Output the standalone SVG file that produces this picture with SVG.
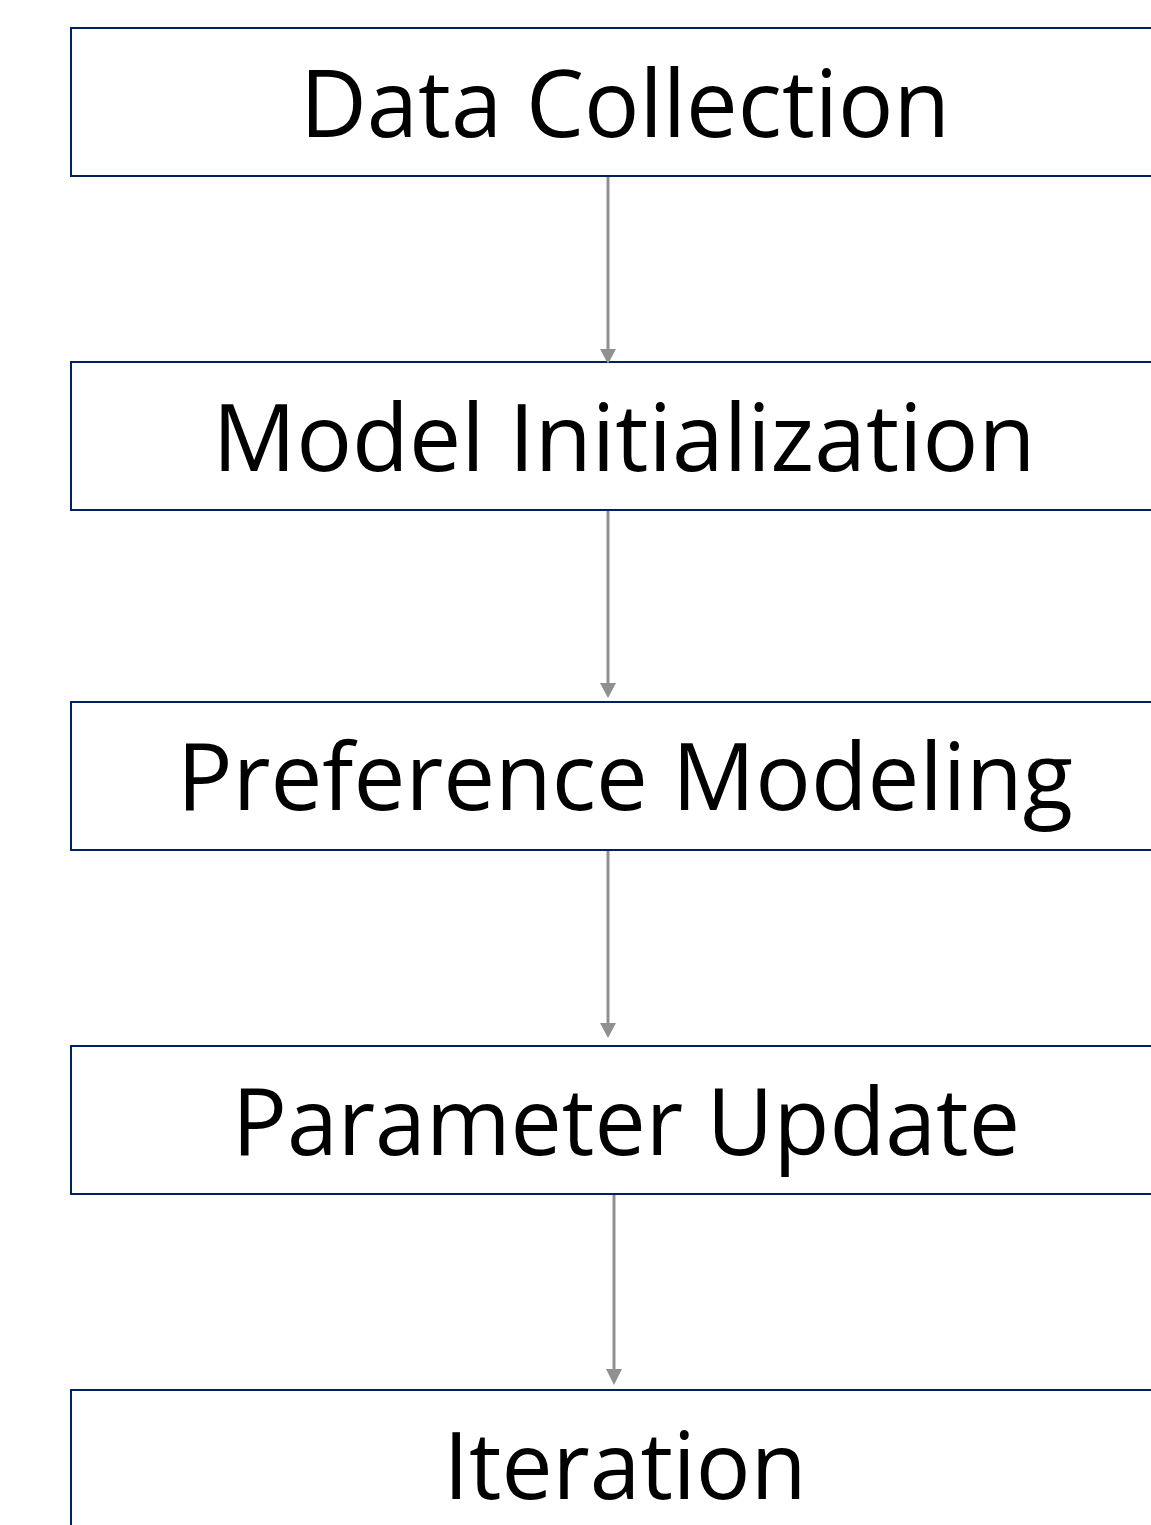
<svg xmlns="http://www.w3.org/2000/svg" width="1151" height="1525" viewBox="0 0 1151 1525">
  <style>
    .box { fill: #ffffff; stroke: #002060; stroke-width: 2; }
    .label { font-family: "Open Sans", "Noto Sans", sans-serif; font-size: 94px; fill: #000000; text-anchor: middle; }
    .edge { stroke: #909090; stroke-width: 3; fill: none; }
    .head { fill: #909090; }
  </style>
  <rect width="1151" height="1525" fill="#ffffff"/>

  <!-- process steps -->
  <g id="node-data-collection">
    <rect class="box" x="71" y="28" width="1108" height="148"/>
    <text class="label" x="625" y="137" textLength="650" lengthAdjust="spacingAndGlyphs">Data Collection</text>
  </g>
  <g id="node-model-initialization">
    <rect class="box" x="71" y="362" width="1108" height="148"/>
    <text class="label" x="624" y="471" textLength="823" lengthAdjust="spacingAndGlyphs">Model Initialization</text>
  </g>
  <g id="node-preference-modeling">
    <rect class="box" x="71" y="702" width="1108" height="148"/>
    <text class="label" x="625" y="810" textLength="896" lengthAdjust="spacingAndGlyphs">Preference Modeling</text>
  </g>
  <g id="node-parameter-update">
    <rect class="box" x="71" y="1046" width="1108" height="148"/>
    <text class="label" x="626" y="1155" textLength="788" lengthAdjust="spacingAndGlyphs">Parameter Update</text>
  </g>
  <g id="node-iteration">
    <rect class="box" x="71" y="1390" width="1108" height="148"/>
    <text class="label" x="625" y="1499" textLength="363" lengthAdjust="spacingAndGlyphs">Iteration</text>
  </g>

  <!-- connectors -->
  <g id="connectors">
    <line class="edge" x1="608" y1="177" x2="608" y2="352"/>
    <polygon class="head" points="600,349 616,349 608,364"/>
    <line class="edge" x1="608" y1="511" x2="608" y2="686"/>
    <polygon class="head" points="600,683 616,683 608,698"/>
    <line class="edge" x1="608" y1="851" x2="608" y2="1026"/>
    <polygon class="head" points="600,1023 616,1023 608,1038"/>
    <line class="edge" x1="614" y1="1195" x2="614" y2="1372"/>
    <polygon class="head" points="606,1369 622,1369 614,1385"/>
  </g>
</svg>
